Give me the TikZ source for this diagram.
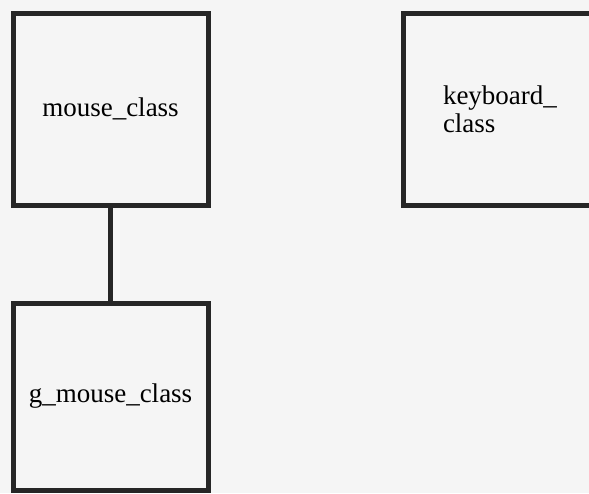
\documentclass[tikz,border=0pt]{standalone}
\usepackage{fontspec}
\setmainfont{Liberation Serif}
\usetikzlibrary{positioning}

\begin{document}
\begin{tikzpicture}[
    node distance=49pt and 97.5pt,
    box/.style={draw=black!85,line width=2.5pt,outer sep=0pt,minimum width=97.5pt,minimum height=96pt,align=center,font=\fontsize{13.5}{14}\selectfont},
    link/.style={draw=black!85,line width=2.5pt}
    ]
    \fill[black!4] (0,0) rectangle (294.5pt,-246.5pt);
    \useasboundingbox (0,0) rectangle (294.5pt,-246.5pt);
    \node[box] (mouse) at (55.25pt,-54.5pt) {mouse\_class};
    \node[box, right=of mouse, text width=57.5pt, align=left] (keyboard) {keyboard\_\\class};
    \node[box, below=of mouse, minimum height=93.5pt] (gmouse) {g\_mouse\_class};
    \draw[link] (mouse)--(gmouse);
\end{tikzpicture}
\end{document}
